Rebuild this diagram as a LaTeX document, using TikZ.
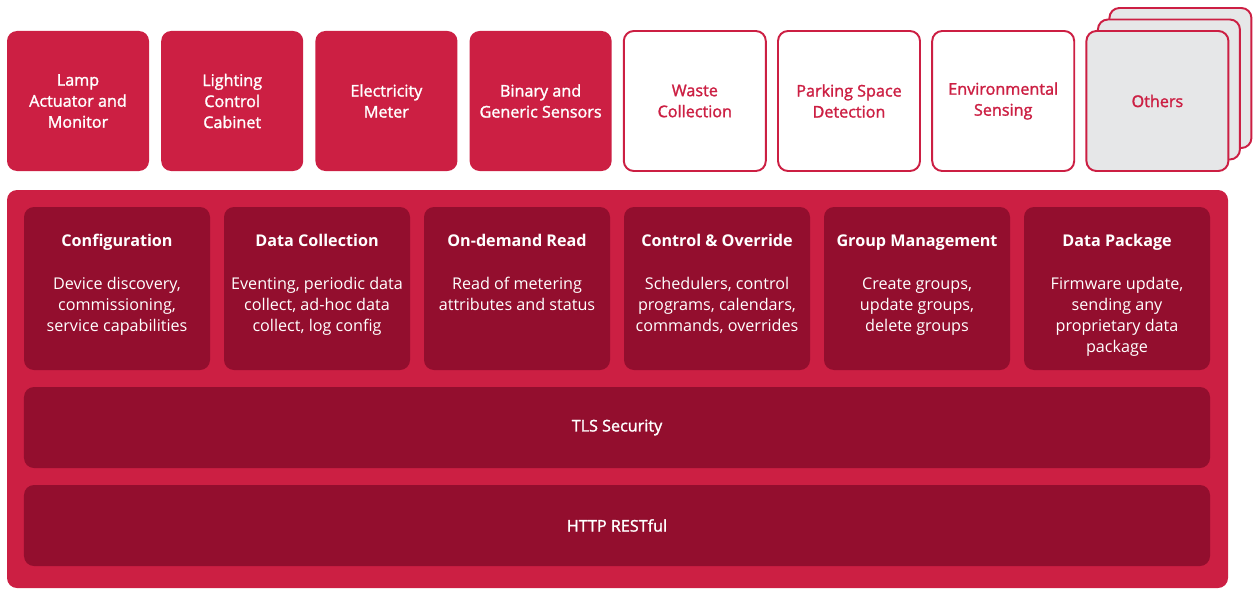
\documentclass[tikz,border=0pt]{standalone}
\usepackage{fontspec}
\setmainfont{Open Sans}
\newfontfamily\semifont{Open Sans}[FakeBold=1.5]
\usetikzlibrary{positioning,backgrounds}
\definecolor{iotred}{RGB}{204,31,67}
\definecolor{iotdark}{RGB}{147,14,46}
\definecolor{iotgray}{RGB}{230,231,232}

\begin{document}
\begin{tikzpicture}[every node/.style={align=center, rounded corners=0.2cm, outer sep=0, inner sep=1pt},
    devbox/.style={minimum width=2.84cm, minimum height=2.8cm, fill=iotred, text=white, font=\semifont\fontsize{9.2}{11.95}\selectfont},
    openbox/.style={devbox, fill=white, draw=iotred, line width=1.1pt, text=iotred},
    otherbox/.style={openbox, fill=iotgray},
    panel/.style={fill=iotred, minimum width=24.42cm, minimum height=7.96cm},
    modbox/.style={fill=iotdark, minimum width=3.72cm, minimum height=3.26cm},
    modtext/.style={anchor=north, inner sep=0, text=white, font=\fontsize{9.2}{11.95}\selectfont},
    layerbox/.style={fill=iotdark, minimum width=23.72cm, minimum height=1.62cm, text=white, font=\semifont\fontsize{9.2}{11.95}\selectfont}]
    \useasboundingbox (0,0) rectangle (25.12,-11.78);

    % devices on top
    \node (lamp) [devbox] at (1.56,-2.02) {Lamp\\Actuator and\\Monitor};
    \node (cabinet) [devbox, right=0.244cm of lamp] {Lighting\\Control\\Cabinet};
    \node (meter) [devbox, right=0.244cm of cabinet] {Electricity\\Meter};
    \node (sensors) [devbox, right=0.244cm of meter] {Binary and\\Generic Sensors};
    \node (waste) [openbox, right=0.244cm of sensors] {Waste\\Collection};
    \node (parking) [openbox, right=0.244cm of waste] {Parking Space\\Detection};
    \node (envi) [openbox, right=0.244cm of parking] {Environmental\\Sensing};
    \node (others) [otherbox, right=0.244cm of envi] {Others};
    \begin{scope}[on background layer]
        \node (others3) [otherbox] at ([shift={(0.46cm,0.46cm)}]others.center) {};
        \node (others2) [otherbox] at ([shift={(0.23cm,0.23cm)}]others.center) {};
    \end{scope}

    % protocol stack
    \node (base) [panel] at (12.35,-7.78) {};
    \node (cfg) [modbox] at (2.34,-5.77) {};
    \node (collect) [modbox, right=0.28cm of cfg] {};
    \node (read) [modbox, right=0.28cm of collect] {};
    \node (control) [modbox, right=0.28cm of read] {};
    \node (group) [modbox, right=0.28cm of control] {};
    \node (pkg) [modbox, right=0.28cm of group] {};

    \node (cfgtxt) [modtext] at ([yshift=-0.55cm]cfg.north) {\textbf{Configuration}\\[12.5pt]Device discovery,\\commissioning,\\service capabilities};
    \node (collecttxt) [modtext] at ([yshift=-0.55cm]collect.north) {\textbf{Data Collection}\\[12.5pt]Eventing, periodic data\\collect, ad-hoc data\\collect, log config};
    \node (readtxt) [modtext] at ([yshift=-0.55cm]read.north) {\textbf{On-demand Read}\\[12.5pt]Read of metering\\attributes and status};
    \node (controltxt) [modtext] at ([yshift=-0.55cm]control.north) {\textbf{Control \& Override}\\[12.5pt]Schedulers, control\\programs, calendars,\\commands, overrides};
    \node (grouptxt) [modtext] at ([yshift=-0.55cm]group.north) {\textbf{Group Management}\\[12.5pt]Create groups,\\update groups,\\delete groups};
    \node (pkgtxt) [modtext] at ([yshift=-0.55cm]pkg.north) {\textbf{Data Package}\\[12.5pt]Firmware update,\\sending any\\proprietary data\\package};

    \node (tls) [layerbox] at (12.34,-8.55) {TLS Security};
    \node (http) [layerbox, below=0.34cm of tls] {HTTP RESTful};
\end{tikzpicture}
\end{document}
